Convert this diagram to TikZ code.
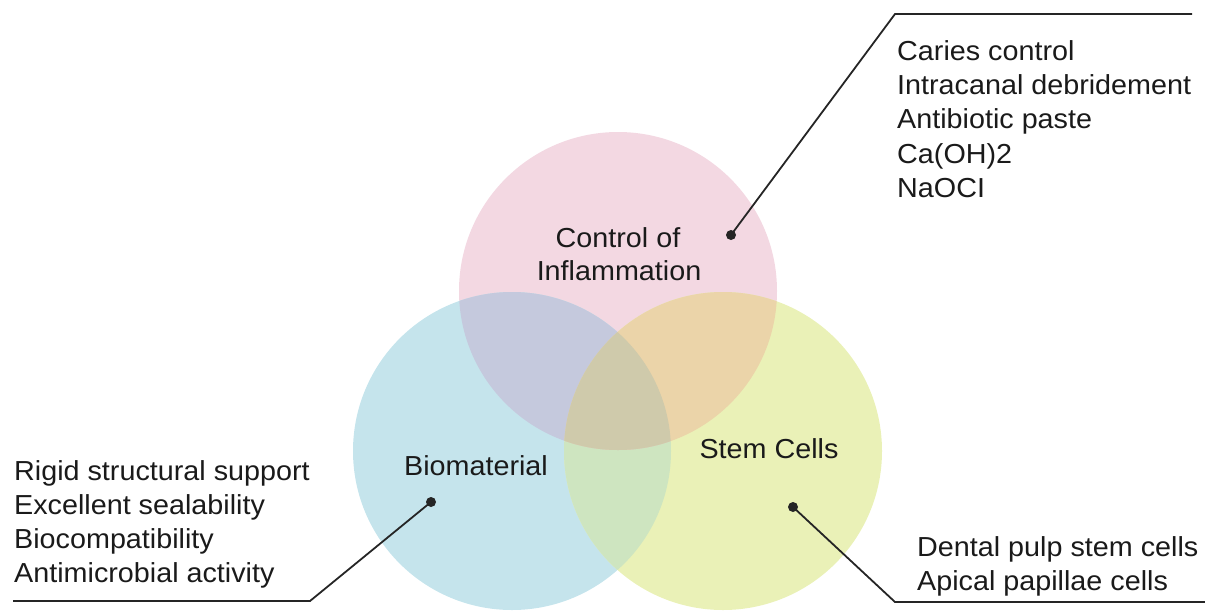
\documentclass[tikz,border=0pt]{standalone}
\usepackage{fontspec}
\setmainfont{Liberation Sans}[FakeStretch=1.045]
\definecolor{pinkc}{HTML}{F3D8E2}
\definecolor{bluec}{HTML}{C5E4EC}
\definecolor{yelc}{HTML}{EAF1B7}
\definecolor{pbc}{HTML}{C5C9DD}
\definecolor{pyc}{HTML}{EBD4A9}
\definecolor{byc}{HTML}{CEE5C0}
\definecolor{allc}{HTML}{CFCAAB}
\definecolor{textc}{HTML}{1A1A1A}
\definecolor{linec}{HTML}{252525}
\begin{document}
\begin{tikzpicture}[x=1pt,y=-1pt,
  txt/.style={inner sep=0pt, anchor=base west, text=textc, font=\fontsize{27.5}{30}\selectfont},
  lbl/.style={inner sep=0pt, anchor=base, text=textc, font=\fontsize{27.5}{30}\selectfont},
  dotn/.style={circle, fill=linec, inner sep=0pt, minimum size=10pt},
  conn/.style={draw=linec, line width=1.8pt}]
\useasboundingbox (0,0) rectangle (1205,611);
\coordinate (cP) at (618,291);
\coordinate (cB) at (512,451);
\coordinate (cY) at (723,451);
\def\R{159}
% base circles
\fill[pinkc] (cP) circle[radius=\R];
\fill[bluec] (cB) circle[radius=\R];
\fill[yelc] (cY) circle[radius=\R];
% blue & yellow
\begin{scope}
  \clip (cB) circle[radius=\R];
  \fill[byc] (cY) circle[radius=\R];
\end{scope}
% pink overlaps
\begin{scope}
  \clip (cP) circle[radius=\R];
  \fill[pbc] (cB) circle[radius=\R];
  \fill[pyc] (cY) circle[radius=\R];
  \clip (cB) circle[radius=\R];
  \fill[allc] (cY) circle[radius=\R];
\end{scope}
% circle labels
\node[lbl] (l1) at (618,247) {Control of};
\node[lbl] (l2) at (619,280) {Inflammation};
\node[lbl] (l3) at (476,475) {Biomaterial};
\node[lbl] (l4) at (769,458) {Stem Cells};
% top right list
\node[txt] (t1) at (897,60) {Caries control};
\node[txt] (t2) at (897,94.4) {Intracanal debridement};
\node[txt] (t3) at (897,128.8) {Antibiotic paste};
\node[txt] (t4) at (897,163.2) {Ca(OH)2};
\node[txt] (t5) at (897,197.6) {NaOCI};
% left list
\node[txt] (b1) at (14,480) {Rigid structural support};
\node[txt] (b2) at (14,514) {Excellent sealability};
\node[txt] (b3) at (14,548) {Biocompatibility};
\node[txt] (b4) at (14,582) {Antimicrobial activity};
% right list
\node[txt] (s1) at (917,556) {Dental pulp stem cells};
\node[txt] (s2) at (917,590) {Apical papillae cells};
% connectors
\node[dotn] (d1) at (731,235) {};
\node[dotn] (d2) at (431,502) {};
\node[dotn] (d3) at (793,507) {};
\coordinate (k1) at (895,14);
\coordinate (e1) at (1192,14);
\coordinate (k2) at (310,601);
\coordinate (e2) at (13,601);
\coordinate (k3) at (895,602);
\coordinate (e3) at (1205,602);
\draw[conn] (d1.center) -- (k1) -- (e1);
\draw[conn] (d2.center) -- (k2) -- (e2);
\draw[conn] (d3.center) -- (k3) -- (e3);
\end{tikzpicture}
\end{document}
